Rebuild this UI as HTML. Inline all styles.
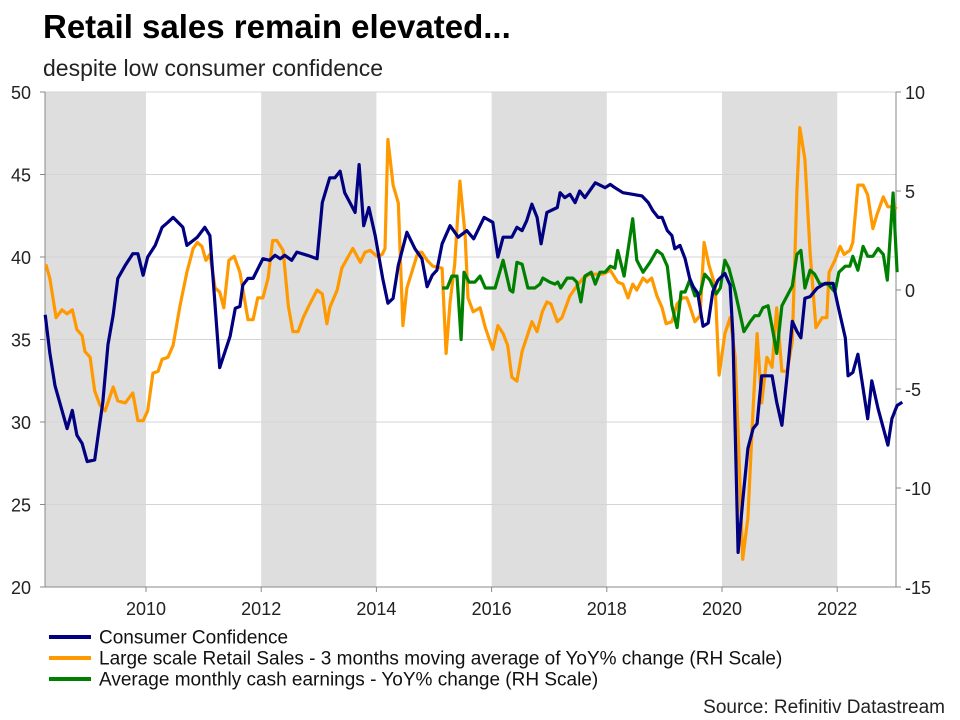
<!DOCTYPE html>
<html><head><meta charset="utf-8"><style>
body{margin:0;background:#fff;width:960px;height:720px;overflow:hidden;font-family:"Liberation Sans",Arial,sans-serif}
svg{position:absolute;left:0;top:0}
</style></head><body>
<svg width="960" height="720">
<text x="43" y="38" font-size="33" font-weight="bold" fill="#000">Retail sales remain elevated...</text>
<text x="43" y="76" font-size="23" fill="#222">despite low consumer confidence</text>
<g id="bands"></g><g id="grid"></g><g id="axes"></g><g id="series"></g><g id="legend"></g>
<text x="945" y="713" font-size="19" text-anchor="end" fill="#222">Source: Refinitiv Datastream</text>
</svg>
<script>
const leftTicks=[50,45,40,35,30,25,20];
const rightTicks=[10,5,0,-5,-10,-15];
const yearTicks=[2010,2012,2014,2016,2018,2020,2022];
const shadedPeriods=[[2008.25,2010],[2012,2014],[2016,2018],[2020,2022]];
const ccDates=[2008.25,2008.33,2008.42,2008.63,2008.72,2008.80,2008.89,2008.98,2009.11,2009.25,2009.34,2009.43,2009.51,2009.64,2009.77,2009.86,2009.95,2010.03,2010.16,2010.28,2010.38,2010.47,2010.64,2010.71,2010.89,2011.02,2011.11,2011.28,2011.46,2011.55,2011.63,2011.68,2011.77,2011.86,2012.03,2012.15,2012.24,2012.33,2012.41,2012.53,2012.62,2012.80,2012.97,2013.06,2013.19,2013.28,2013.37,2013.45,2013.63,2013.70,2013.78,2013.87,2013.98,2014.11,2014.20,2014.29,2014.38,2014.53,2014.67,2014.79,2014.88,2014.97,2015.05,2015.14,2015.28,2015.42,2015.57,2015.69,2015.87,2016.02,2016.11,2016.20,2016.35,2016.44,2016.53,2016.61,2016.70,2016.79,2016.86,2016.96,2017.14,2017.19,2017.27,2017.36,2017.45,2017.53,2017.62,2017.80,2017.97,2018.06,2018.14,2018.28,2018.45,2018.61,2018.72,2018.80,2018.89,2018.96,2019.05,2019.13,2019.18,2019.27,2019.36,2019.44,2019.50,2019.58,2019.67,2019.76,2019.84,2019.93,2020.05,2020.14,2020.19,2020.28,2020.36,2020.45,2020.54,2020.61,2020.69,2020.87,2020.95,2021.04,2021.13,2021.22,2021.30,2021.37,2021.44,2021.53,2021.65,2021.79,2021.93,2022.01,2022.14,2022.19,2022.27,2022.36,2022.53,2022.60,2022.71,2022.88,2022.95,2023.04,2023.13];
const ccValues=[36.5,34.2,32.2,29.6,30.7,29.2,28.7,27.6,27.7,31.2,34.7,36.5,38.7,39.5,40.2,40.2,38.9,40.0,40.7,41.8,42.1,42.4,41.8,40.7,41.2,41.8,41.3,33.3,35.2,36.9,37.0,38.3,38.7,38.7,39.9,39.8,40.1,39.9,40.1,39.8,40.3,40.1,39.9,43.3,44.8,44.8,45.2,43.9,42.7,45.6,41.9,43.0,41.3,38.7,37.2,37.5,39.5,41.5,40.5,39.9,38.2,38.9,39.2,40.8,41.9,41.2,41.6,41.1,42.4,42.1,40.0,41.2,41.2,41.8,41.6,42.2,43.2,42.4,40.8,42.7,43.0,43.9,43.6,43.8,43.3,44.0,43.6,44.5,44.2,44.4,44.2,43.9,43.8,43.7,43.3,42.8,42.4,42.4,41.6,41.3,40.5,40.7,39.9,38.7,38.2,37.8,35.8,36.0,37.9,38.6,39.0,38.3,35.3,22.1,25.2,28.4,29.6,29.9,32.8,32.8,31.2,29.8,32.8,36.1,35.5,35.1,37.5,37.6,38.1,38.4,38.4,37.1,35.1,32.8,33.0,34.1,30.2,32.5,30.8,28.6,30.2,31.0,31.2];
const rsDates=[2008.26,2008.33,2008.44,2008.54,2008.63,2008.72,2008.80,2008.89,2008.94,2009.03,2009.11,2009.20,2009.29,2009.43,2009.51,2009.64,2009.77,2009.86,2009.95,2010.03,2010.12,2010.21,2010.28,2010.38,2010.47,2010.59,2010.71,2010.82,2010.89,2010.97,2011.04,2011.11,2011.20,2011.28,2011.35,2011.44,2011.53,2011.63,2011.77,2011.86,2011.94,2012.03,2012.12,2012.20,2012.27,2012.38,2012.47,2012.55,2012.64,2012.73,2012.81,2012.90,2012.97,2013.06,2013.14,2013.19,2013.32,2013.40,2013.59,2013.72,2013.80,2013.89,2014.01,2014.10,2014.15,2014.20,2014.29,2014.38,2014.46,2014.53,2014.72,2014.79,2014.88,2014.98,2015.14,2015.21,2015.28,2015.36,2015.45,2015.54,2015.59,2015.68,2015.80,2015.89,2016.02,2016.11,2016.20,2016.28,2016.35,2016.44,2016.53,2016.61,2016.70,2016.79,2016.88,2016.96,2017.03,2017.14,2017.22,2017.36,2017.48,2017.59,2017.71,2017.83,2017.93,2018.06,2018.19,2018.28,2018.37,2018.45,2018.52,2018.63,2018.70,2018.78,2018.87,2018.96,2019.03,2019.13,2019.22,2019.31,2019.39,2019.44,2019.53,2019.62,2019.69,2019.77,2019.88,2019.95,2020.05,2020.14,2020.23,2020.28,2020.36,2020.45,2020.54,2020.61,2020.69,2020.78,2020.87,2020.95,2021.04,2021.13,2021.22,2021.30,2021.35,2021.44,2021.53,2021.63,2021.74,2021.82,2021.86,2021.96,2022.05,2022.12,2022.22,2022.27,2022.36,2022.45,2022.53,2022.62,2022.69,2022.80,2022.88,2022.97,2023.04];
const rsValues=[1.3,0.6,-1.4,-1.0,-1.2,-1.0,-2.0,-2.3,-3.1,-3.4,-5.1,-5.8,-6.1,-4.9,-5.6,-5.7,-5.2,-6.6,-6.6,-6.1,-4.2,-4.1,-3.5,-3.4,-2.8,-0.8,0.9,2.1,2.4,2.2,1.5,1.8,0.1,-0.1,-0.9,1.5,1.7,0.9,-1.5,-1.5,-0.4,-0.4,0.6,2.5,2.5,2.0,-0.8,-2.1,-2.1,-1.4,-0.9,-0.4,0.0,-0.2,-1.7,-0.9,0.0,1.1,2.1,1.4,1.9,2.0,1.7,1.8,2.1,7.6,5.3,4.4,-1.8,0.1,1.9,1.9,1.5,1.2,1.1,-3.2,-0.6,1.3,5.5,2.8,-0.4,-1.1,-0.9,-1.9,-3.0,-1.8,-2.2,-2.8,-4.4,-4.6,-3.1,-2.4,-1.6,-2.1,-1.1,-0.6,-0.7,-1.6,-1.4,-0.3,0.2,0.6,0.8,0.8,0.8,1.0,0.4,0.3,-0.4,0.3,0.0,0.6,0.4,0.6,-0.3,-0.9,-1.7,-1.6,-0.7,-0.4,-0.4,-0.8,-1.6,-1.3,2.4,1.3,0.2,-4.3,-2.2,-1.4,-3.4,-7.2,-13.6,-11.5,-6.0,-2.2,-5.7,-3.4,-3.9,-0.9,-4.1,-4.1,-2.6,5.0,8.2,6.6,1.9,-1.9,-1.4,-1.4,0.9,1.5,2.2,1.8,2.0,2.4,5.3,5.3,4.8,3.1,3.8,4.7,4.2,4.2,4.1];
const ceDates=[2015.14,2015.23,2015.31,2015.40,2015.47,2015.52,2015.61,2015.71,2015.80,2015.89,2016.06,2016.20,2016.32,2016.37,2016.44,2016.53,2016.63,2016.75,2016.84,2016.89,2017.01,2017.10,2017.15,2017.20,2017.31,2017.41,2017.48,2017.55,2017.62,2017.73,2017.80,2017.88,2017.97,2018.06,2018.14,2018.19,2018.30,2018.45,2018.52,2018.63,2018.75,2018.87,2018.96,2019.05,2019.13,2019.22,2019.29,2019.36,2019.44,2019.53,2019.62,2019.70,2019.79,2019.90,2019.97,2020.05,2020.12,2020.23,2020.29,2020.38,2020.49,2020.57,2020.64,2020.71,2020.80,2020.89,2020.95,2021.04,2021.13,2021.22,2021.30,2021.37,2021.44,2021.53,2021.61,2021.70,2021.84,2021.96,2022.03,2022.14,2022.22,2022.27,2022.36,2022.45,2022.53,2022.62,2022.71,2022.80,2022.87,2022.97,2023.04];
const ceValues=[0.1,0.1,0.7,0.7,-2.5,0.9,0.4,0.4,0.7,0.1,0.1,1.5,0.0,-0.1,1.4,1.3,0.1,0.1,0.3,0.6,0.4,0.3,0.4,0.1,0.6,0.6,0.4,-0.6,0.7,0.9,0.3,0.9,0.9,1.2,1.1,2.0,0.7,3.6,1.5,0.9,1.4,2.0,1.8,1.2,-0.8,-1.9,-0.1,-0.1,0.5,-0.3,-0.2,0.8,0.5,-0.2,0.1,1.5,1.1,-0.1,-0.9,-2.1,-1.6,-1.3,-1.3,-0.9,-0.8,-2.2,-3.2,-0.8,-0.3,0.2,1.8,2.0,0.1,1.0,0.8,0.3,0.3,-0.1,0.9,1.2,1.2,1.7,1.0,2.2,1.7,1.7,2.1,1.8,0.5,4.9,0.9];

const NS='http://www.w3.org/2000/svg';
const X0=45,X1=896,YT=92,YB=587;
const xS=d=>146+(d-2010)*57.6;
const yL=v=>YT+(50-v)*(YB-YT)/30;
const yR=v=>YT+(10-v)*(YB-YT)/25;
function mk(tag,attrs,parent,text){const e=document.createElementNS(NS,tag);for(const k in attrs)e.setAttribute(k,attrs[k]);if(text!==undefined)e.textContent=text;document.getElementById(parent).appendChild(e);return e;}

shadedPeriods.forEach(p=>{
  const r=mk('rect',{x:Math.max(X0,xS(p[0])),y:YT,width:xS(p[1])-Math.max(X0,xS(p[0])),height:YB-YT,fill:'#dedede'},'bands');
  
  
});
leftTicks.forEach(v=>{
  const l=mk('line',{x1:X0,x2:X1,y1:yL(v),y2:yL(v),stroke:'#d4d4d4','stroke-width':1},'grid');
  
  
  const tk=mk('line',{x1:X0-5,x2:X0,y1:yL(v),y2:yL(v),stroke:'#888'},'axes');
  
  
  const t=mk('text',{x:31,y:yL(v)+7,'font-size':18,'text-anchor':'end',fill:'#222'},'axes',String(v));
  
  
});
rightTicks.forEach(v=>{
  const tk=mk('line',{x1:X1,x2:X1+5,y1:yR(v),y2:yR(v),stroke:'#888'},'axes');
  
  
  const t=mk('text',{x:905,y:yR(v)+7,'font-size':18,fill:'#222'},'axes',String(v));
  
  
});
yearTicks.forEach(y=>{
  const tk=mk('line',{x1:xS(y),x2:xS(y),y1:YB,y2:YB+5,stroke:'#888'},'axes');
  
  
  const t=mk('text',{x:xS(y),y:615,'font-size':18,'text-anchor':'middle',fill:'#222'},'axes',String(y));
  
  
});
const la=mk('line',{x1:X0,x2:X0,y1:YT,y2:YB,stroke:'#888'},'axes');


const ra=mk('line',{x1:X1,x2:X1,y1:YT,y2:YB,stroke:'#888'},'axes');


const ba=mk('line',{x1:X0,x2:X1,y1:YB,y2:YB,stroke:'#888'},'axes');



function line(dates,vals,ys,color,name){
  const pts=dates.map((d,i)=>xS(d).toFixed(1)+','+ys(vals[i]).toFixed(1)).join(' ');
  const p=mk('polyline',{points:pts,fill:'none',stroke:color,'stroke-width':3.2,'stroke-linejoin':'round'},'series');
  
  
}
line(rsDates,rsValues,yR,'#ff9900','retail-sales-line');
line(ceDates,ceValues,yR,'#008000','cash-earnings-line');
line(ccDates,ccValues,yL,'#000080','consumer-confidence-line');

const legend=[['#000080','Consumer Confidence'],['#ff9900','Large scale Retail Sales - 3 months moving average of YoY% change (RH Scale)'],['#008000','Average monthly cash earnings - YoY% change (RH Scale)']];
legend.forEach((l,i)=>{
  const y=637+i*21;
  const s=mk('line',{x1:49,x2:91,y1:y,y2:y,stroke:l[0],'stroke-width':4},'legend');
  
  
  const t=mk('text',{x:99,y:y+6.5,'font-size':19,fill:'#111'},'legend',l[1]);
  
  
});
</script>
</body></html>
